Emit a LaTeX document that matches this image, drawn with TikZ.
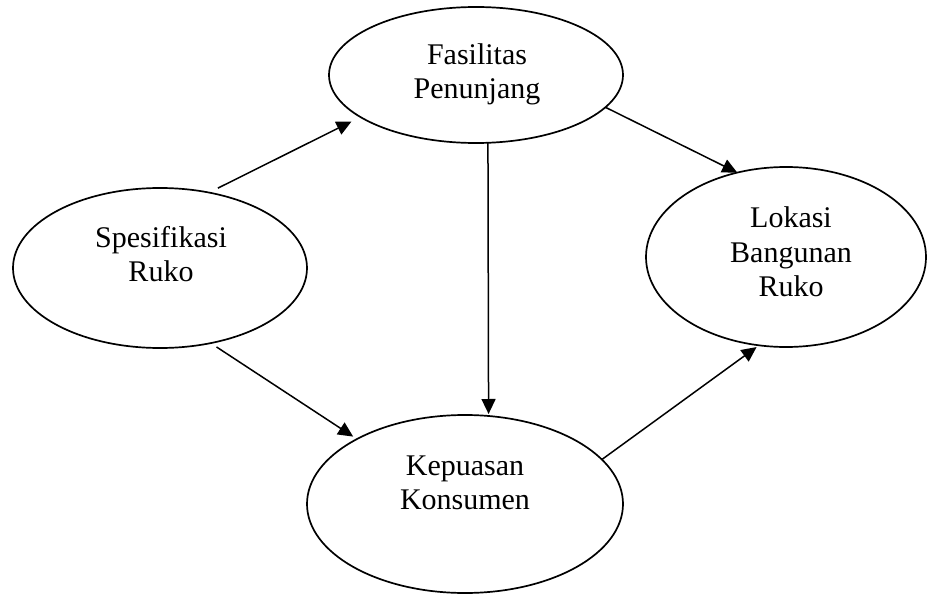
\documentclass[tikz,border=0pt]{standalone}
\usepackage{fontspec}
\setmainfont{Liberation Serif}
\usetikzlibrary{shapes.geometric,arrows.meta}
\begin{document}
\begin{tikzpicture}[x=1pt,y=-1pt,
  oval/.style={draw, ellipse, line width=1.7pt, inner sep=0pt, outer sep=0pt},
  lbl/.style={align=center, font=\fontsize{30}{34.5}\selectfont, inner sep=0pt},
  arr/.style={line width=1.5pt, -{Triangle[length=15pt,width=14pt]}}]
\useasboundingbox[fill=white] (0,0) rectangle (930,594);
% ellipses
\node[oval, minimum width=294pt, minimum height=136pt] (fas) at (476,75) {};
\node[oval, minimum width=294pt, minimum height=160pt] (spec) at (160,268) {};
\node[oval, minimum width=280pt, minimum height=180pt] (lok) at (786,257) {};
\node[oval, minimum width=316pt, minimum height=178pt] (kep) at (465,504) {};
% labels
\node[lbl] (fast) at (477,74.5) {Fasilitas\\Penunjang};
\node[lbl] (spect) at (161,254) {Spesifikasi\\Ruko};
\node[lbl] (lokt) at (791,252) {Lokasi\\Bangunan\\Ruko};
\node[lbl] (kept) at (465,483) {Kepuasan\\Konsumen};
% connectors
\draw[arr, shorten <=10pt, shorten >=10pt] (spec.57.6) -- (fas.200.3);
\draw[arr, shorten <=7pt, shorten >=4.5pt] (spec.304.3) -- (kep.149.4);
\draw[arr, shorten >=2pt] (fas.280) -- (kep.75.4);
\draw[arr] (fas.346.4) -- (lok.120.8);
\draw[arr, shorten >=3pt] (kep.18.6) -- (lok.253.2);
\end{tikzpicture}
\end{document}
